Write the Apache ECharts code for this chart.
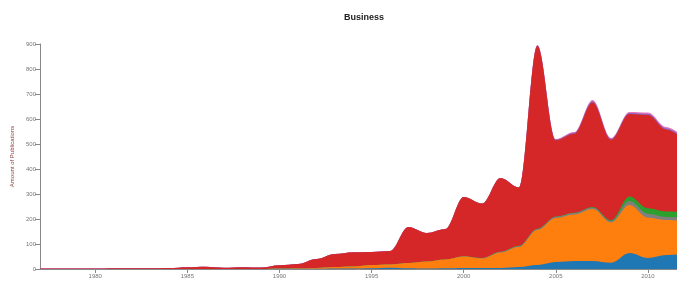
<!DOCTYPE html>
<html>
<head>
<meta charset="utf-8">
<script src="https://cdn.jsdelivr.net/npm/echarts@6/dist/echarts.min.js"></script>
<style>
  html,body{margin:0;padding:0;background:#fff;}
  #main{width:677px;height:284px;}
</style>
</head>
<body>
<div id="main"></div>
<script>
// years on the x axis
var years = [];
for (var y = 1977; y <= 2012; y++) years.push(y);
var yearTicks = [1980, 1985, 1990, 1995, 2000, 2005, 2010];

// stacked layers, bottom to top
var blue   = [0,0,0,0,0,0,0,0,0,0,0,0,0,1,1,1,2,2,3,5,3,2,3,4,4,4,8,16,28,32,32,25,64,44,56,60];
var orange = [0,0,0,0,0,0,0,0,0,0,0,0,0,1,2,3,6,8,13,13,21,28,35,46,38,62,80,140,176,186,208,161,192,161,140,132];
var gray   = [0,0,0,0,0,0,0,0,0,0,0,0,0,0,0,0,0,0,0,0,0,0,0,1,2,3,4,4,5,6,6,6,16,16,12,12];
var green  = [0,0,0,0,0,0,0,0,0,0,0,0,0,0,0,0,0,0,0,0,0,0,0,0,0,0,1,1,1,1,2,3,18,22,22,24];
var red    = [2,2,2,2,3,3,3,4,7,9,5,7,6,13,17,36,52,57,52,54,144,114,122,237,218,295,233,731,305,316,418,322,330,373,328,287];
var purple = [0,0,0,0,0,0,0,0,0,0,0,0,0,0,0,0,0,0,0,0,0,0,0,0,0,0,0,2,3,4,5,4,4,5,5,5];
var pink   = [0,0,0,0,0,0,0,0,0,0,0,0,0,0,0,0,0,0,0,0,0,0,0,0,0,0,0,2,2,3,5,3,4,5,5,5];

var layers = [
  {name:'a', data:blue,   color:'#1f77b4'},
  {name:'b', data:orange, color:'#ff7f0e'},
  {name:'c', data:gray,   color:'#7f7f7f'},
  {name:'d', data:green,  color:'#2ca02c'},
  {name:'e', data:red,    color:'#d62728'},
  {name:'f', data:purple, color:'#9467bd'},
  {name:'g', data:pink,   color:'#e377c2'}
];

var myChart = echarts.init(document.getElementById('main'));

// running totals, so each layer is drawn from 0 up to its top edge
var sums = years.map(function(){ return 0; });
var series = layers.map(function(l, k){
  var pts = l.data.map(function(v, i){
    sums[i] += v;
    return [years[i], sums[i]];
  });
  return {
    name: l.name,
    type: 'line',
    smooth: 0.35,
    smoothMonotone: 'x',
    showSymbol: false,
    z: 20 - k,
    lineStyle: {width: 0},
    areaStyle: {color: l.color, opacity: 1, origin: 'start'},
    itemStyle: {color: l.color},
    data: pts
  };
});

var option = {
  animation: false,
  title: {
    text: 'Business',
    left: 339, top: 8,
    textStyle: {fontSize: 9, fontWeight: 'bold', color: '#222', fontFamily: 'Liberation Sans'}
  },
  grid: {left: 40, right: 0, top: 44, bottom: 15, outerBoundsMode: 'none'},
  xAxis: {
    type: 'value',
    min: 1977, max: 2011.58,
    name: 'Year', nameLocation: 'middle', nameGap: 18,
    nameTextStyle: {fontSize: 7, color: '#666'},
    axisLine: {show: true, lineStyle: {color: '#888'}},
    axisTick: {show: true, length: 4, customValues: yearTicks, lineStyle: {color: '#888'}},
    axisLabel: {customValues: yearTicks, fontSize: 6, color: '#777', margin: 4,
      formatter: function(v){ return String(v); }},
    splitLine: {show: false}
  },
  yAxis: {
    type: 'value',
    min: 0, max: 900, interval: 100,
    name: 'Amount of Publications', nameLocation: 'middle', nameGap: 24,
    nameTextStyle: {fontSize: 6, color: '#8b3a3a'},
    axisLine: {show: true, lineStyle: {color: '#888'}},
    axisTick: {show: true, length: 5, lineStyle: {color: '#888'}},
    axisLabel: {fontSize: 6, color: '#777', margin: 4},
    splitLine: {show: false}
  },
  series: series
};

myChart.setOption(option);
</script>
</body>
</html>
